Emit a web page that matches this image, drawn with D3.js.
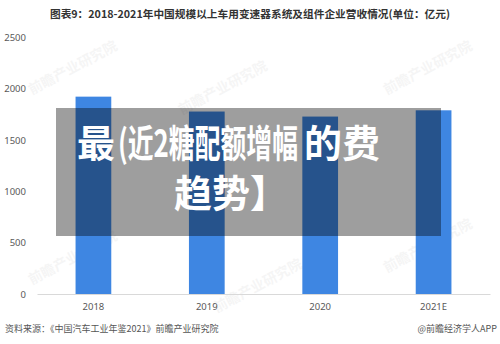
<!DOCTYPE html>
<html>
<head>
<meta charset="utf-8">
<script src="https://cdn.jsdelivr.net/npm/d3@7"></script>
<style>
  body { margin: 0; background: #fff; }
  svg { display: block; font-family: "Noto Sans CJK SC", "Noto Sans", sans-serif; }
</style>
</head>
<body>
<svg id="canvas"></svg>
<script>
// data (亿元)
let years = ['2018', '2019', '2020', '2021E']
let revenue = [1922, 1777, 1728, 1789]
let yTicks = [0, 500, 1000, 1500, 2000, 2500]

let width = 500
let height = 344
let plotLeft = 37
let plotRight = 490
let plotBottom = 294
let plotTop = 37.3

let canvas = d3.select('#canvas')
canvas.attr('width', width).attr('height', height)

let xScale = d3.scaleBand()
    .domain(years)
    .range([plotLeft, plotRight])
    .paddingInner(0.685)
    .paddingOuter(0.34)

let yScale = d3.scaleLinear()
    .domain([0, 2500])
    .range([plotBottom, plotTop])

// title
canvas.append('text')
    .attr('x', 250)
    .attr('y', 18)
    .attr('text-anchor', 'middle')
    .attr('font-size', 10.7)
    .attr('font-weight', 'bold')
    .attr('fill', '#333')
    .text('图表9：2018-2021年中国规模以上车用变速器系统及组件企业营收情况(单位：亿元)')

// faint watermarks
let marks = [[75, 72], [225, 92], [430, 72], [75, 262], [260, 290], [430, 250]]
canvas.selectAll('.wm')
    .data(marks)
    .enter()
    .append('text')
    .attr('class', 'wm')
    .attr('transform', d => 'translate(' + d[0] + ',' + d[1] + ') rotate(-28)')
    .attr('text-anchor', 'middle')
    .attr('font-size', 14)
    .attr('font-weight', 'bold')
    .attr('fill', '#000')
    .attr('opacity', 0.035)
    .text('前瞻产业研究院')

// y axis labels
let yAxis = d3.axisLeft(yScale)
    .tickValues(yTicks)
    .tickFormat(d3.format('d'))
    .tickSize(0)
    .tickPadding(0)
canvas.append('g')
    .attr('transform', 'translate(26,0)')
    .call(yAxis)
    .call(g => g.select('.domain').remove())
    .call(g => g.selectAll('text')
        .attr('font-size', 9.5)
        .attr('fill', '#595959')
        .attr('font-family', '"Noto Sans", sans-serif'))

// bars
canvas.selectAll('.bar')
    .data(revenue)
    .enter()
    .append('rect')
    .attr('class', 'bar')
    .attr('x', (d, i) => xScale(years[i]))
    .attr('width', xScale.bandwidth())
    .attr('y', d => yScale(d))
    .attr('height', d => plotBottom - yScale(d))
    .attr('fill', '#3e86e2')

// x axis
let xAxis = d3.axisBottom(xScale)
    .tickSize(0)
    .tickPadding(9)
canvas.append('g')
    .attr('transform', 'translate(0,' + plotBottom + ')')
    .call(xAxis)
    .call(g => g.select('.domain').attr('stroke', '#d9d9d9'))
    .call(g => g.selectAll('text')
        .attr('font-size', 9.5)
        .attr('fill', '#595959')
        .attr('font-family', '"Noto Sans", sans-serif'))

// source line
canvas.append('text')
    .attr('x', 5)
    .attr('y', 332)
    .attr('font-size', 9)
    .attr('fill', '#555')
    .text('资料来源：《中国汽车工业年鉴2021》前瞻产业研究院')

canvas.append('text')
    .attr('x', 497)
    .attr('y', 332)
    .attr('text-anchor', 'end')
    .attr('font-size', 9)
    .attr('fill', '#555')
    .text('@前瞻经济学人APP')

// grey overlay with the garbled caption on top
canvas.append('rect')
    .attr('x', 56)
    .attr('y', 108)
    .attr('width', 385)
    .attr('height', 128)
    .attr('fill', 'rgba(0,0,0,0.38)')

let cap = canvas.append('g')
    .attr('fill', '#fff')
    .attr('font-weight', 'bold')
    .attr('font-size', 38)

cap.append('text').attr('x', 77).attr('y', 157).text('最')

// squeezed middle part, scaled so its box really ends before 的费
let mid = cap.append('text')
    .attr('transform', 'translate(118,157)')
    .text('(近2糖配额增幅')
let midW = mid.node().getComputedTextLength()
mid.attr('transform', 'translate(118,157) scale(' + (180 / midW) + ',1)')

cap.append('text').attr('x', 304).attr('y', 157).text('的费')
cap.append('text').attr('x', 174).attr('y', 207).text('趋势】')
</script>
</body>
</html>
